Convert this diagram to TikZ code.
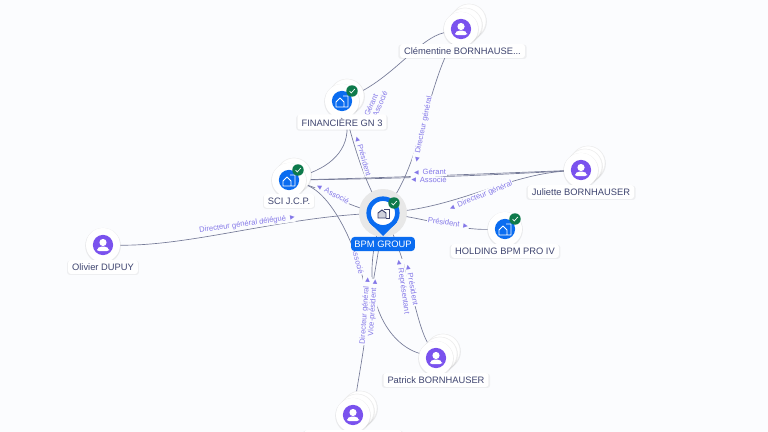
\documentclass[tikz,border=0pt]{standalone}
\usepackage{fontspec}
\setmainfont{Liberation Sans}
\newfontfamily\tipfont{DejaVu Sans}
\usetikzlibrary{backgrounds,shadows}
\definecolor{pagebg}{HTML}{FBFCFE}
\definecolor{edgegray}{HTML}{767B98}
\definecolor{labelviolet}{HTML}{8478E8}
\definecolor{nametext}{HTML}{3F4570}
\definecolor{personviolet}{HTML}{7A52EE}
\definecolor{companyblue}{HTML}{0A6CF0}
\definecolor{checkgreen}{HTML}{0E7A4B}
\newcommand{\tipl}{{\tipfont\fontsize{4.5}{5}\selectfont ◀}\hspace{3pt}}
\newcommand{\tipr}{\hspace{3pt}{\tipfont\fontsize{4.5}{5}\selectfont ▶}}
\tikzset{
  x=0.75pt,y=-0.75pt,
  disc/.style={circle,fill=white,inner sep=0pt,minimum size=25.5pt,drop shadow={opacity=.14,shadow xshift=0pt,shadow yshift=-.5pt,shadow scale=1.05}},
  backdisc/.style={disc,draw=black!7,line width=.3pt},
  namebox/.style={rectangle,fill=white,rounded corners=2pt,text=nametext,font=\fontsize{7}{8}\selectfont,inner xsep=3pt,inner ysep=2.6pt,drop shadow={opacity=.1,shadow xshift=0pt,shadow yshift=-.6pt,shadow scale=1.03}},
  edge/.style={draw=edgegray,line width=.5pt},
  edgelabel/.style={fill=pagebg,text=labelviolet,font=\fontsize{5.7}{6}\selectfont,inner sep=.6pt},
}
% person with two discs behind
\newcommand{\personmark}[2]{
  \fill[personviolet] (#1,#2) circle (7.6pt);
  \fill[white] (#1,#2-2.5) circle (3.6);
  \fill[white,rounded corners=1.5pt] (#1-6,#2+6) -- (#1-6,#2+3.5) -- (#1-3,#2+1.5) -- (#1+3,#2+1.5) -- (#1+6,#2+3.5) -- (#1+6,#2+6) -- cycle;
}
\newcommand{\companymark}[2]{
  \fill[companyblue] (#1,#2) circle (7.6pt);
  \draw[white,line width=.6pt,line join=round] (#1-6,#2+6) -- (#1-6,#2+1) -- (#1-2,#2-3) -- (#1+2,#2+1) -- (#1+2,#2+6) -- cycle (#1+1,#2-5) -- (#1+6,#2-5) -- (#1+6,#2+6) -- (#1+2,#2+6);
}
\newcommand{\okmark}[2]{
  \fill[checkgreen] (#1,#2) circle (4.3pt);
  \draw[white,line width=.5pt] (#1-2.5,#2) -- (#1-.7,#2+2) -- (#1+2.8,#2-2);
}
\begin{document}
\begin{tikzpicture}
	\clip (0,0) rectangle (768,432);
	% back discs
	\node[backdisc] (clemb) at (469,21) {};
	\node[backdisc] (clema) at (465,25) {};
	\node[backdisc] (finb) at (347,96) {};
	\node[backdisc] (scib) at (294,175) {};
	\node[backdisc] (julib) at (588,163) {};
	\node[backdisc] (julia) at (585,166) {};
	\node[backdisc] (patb) at (443,351) {};
	\node[backdisc] (pata) at (440,354) {};
	\node[backdisc] (botb) at (360,408) {};
	\node[backdisc] (bota) at (357,411) {};
	
	% main discs
	\node[disc] (clem) at (461,29) {};
	\node[disc] (fin) at (342,101) {};
	\node[disc] (sci) at (289,180) {};
	\node[disc] (juli) at (581,170) {};
	\node[disc] (holding) at (505,229) {};
	\node[disc] (olivier) at (103,245) {};
	\node[disc] (patrick) at (436,358) {};
	\node[disc] (bottom) at (353,415) {};
	
	\personmark{461}{29}
	\personmark{581}{170}
	\personmark{103}{245}
	\personmark{436}{358}
	\personmark{353}{415}
	\companymark{342}{101}
	\companymark{289}{180}
	\companymark{505}{229}
	\okmark{352}{91}
	\okmark{298}{170}
	\okmark{515}{219}
	
	% names
	\node[namebox] (tclem) at (462.5,51) {Clémentine BORNHAUSE...};
	\node[namebox] (tfin) at (342,122) {FINANCIÈRE GN 3};
	\node[namebox] (tsci) at (289,201) {SCI J.C.P.};
	\node[namebox] (tjuli) at (581,192) {Juliette BORNHAUSER};
	\node[namebox] (tholding) at (505,251) {HOLDING BPM PRO IV};
	\node[namebox] (tolivier) at (103,267) {Olivier DUPUY};
	\node[namebox] (tpatrick) at (436,380) {Patrick BORNHAUSER};
	\node[namebox,minimum width=73pt,minimum height=12pt] (tbottom) at (353,438) {};
	
	% central pin
	\begin{scope}[on background layer]
		\fill[pagebg] (0,0) rectangle (768,432);
	\end{scope}
	\node[circle,fill=black!9,inner sep=0pt,minimum size=36pt] (halo) at (383,213) {};
	\fill[companyblue] (369,222) -- (383,236) -- (397,222) -- cycle;
	\node[circle,fill=white,draw=companyblue,line width=3.4pt,inner sep=0pt,minimum size=21.5pt] (bpm) at (383,213) {};
	\draw[nametext,line width=.7pt,fill=nametext!25] (378,218) -- (378,213) -- (382,210) -- (386,213) -- (386,218) -- cycle;
	\draw[nametext,line width=.7pt] (384,209) -- (389,209) -- (389,218) -- (386,218);
	\okmark{394}{203}
	\node[rectangle,fill=companyblue,rounded corners=2.5pt,text=white,font=\fontsize{7}{8}\selectfont,inner xsep=2.5pt,inner ysep=2.8pt] (tbpm) at (383,244) {BPM GROUP};
	
	% connectors and their labels
	\coordinate (mergedir) at (366.5,325);
	\begin{scope}[on background layer]
		\path[edge] (clem) .. controls (420,38) and (395,75) .. (fin);
		\path[edge] (clem) .. controls (430,80) and (420,160) .. (bpm);
		\path[edge] (fin) .. controls (350,130) and (360,170) .. (bpm);
		\path[edge] (fin) .. controls (352,145) and (335,165) .. (sci);
		\path[edge] (sci) .. controls (380,179) and (480,176) .. (juli);
		\path[edge] (sci) .. controls (380,178) and (480,174) .. (juli);
		\path[edge] (juli) .. controls (510,175) and (460,205) .. (bpm);
		\path[edge] (sci) .. controls (325,190) and (345,205) .. (bpm);
		\path[edge] (sci) .. controls (340,195) and (375,290) .. (mergedir);
		\path[edge] (olivier) .. controls (190,246) and (280,218) .. (bpm);
		\path[edge] (bpm) .. controls (430,220) and (460,230) .. (holding);
		\path[edge] (bottom) .. controls (359,375) and (364,350) .. (mergedir) .. controls (369,300) and (378,260) .. (bpm);
		\path[edge] (patrick) .. controls (390,345) and (358,300) .. (bpm);
		\path[edge] (patrick) .. controls (415,320) and (410,270) .. (bpm);
		
		\node[edgelabel,rotate=66] (lgerantclem) at (371,105) {Gérant};
		\node[edgelabel,rotate=66] (lassocclem) at (380,104) {Associé};
		\node[edgelabel,rotate=78] (ldirclem) at (423,129) {\tipl Directeur général};
		\node[edgelabel,rotate=-74] (lpresfin) at (363,156) {\tipl Président};
		\node[edgelabel] (lgerantjuli) at (430,172) {\tipl Gérant};
		\node[edgelabel,rotate=-2] (lassocjuli) at (429,180) {\tipl Associé};
		\node[edgelabel,rotate=22] (ldirjuli) at (481,196) {\tipl Directeur général};
		\node[edgelabel,rotate=-28] (lassocsci) at (333,194) {\tipl Associé};
		\node[edgelabel,rotate=8] (lolivier) at (247,224) {Directeur général délégué\tipr};
		\node[edgelabel,rotate=-9] (lpresholding) at (448,223) {Président\tipr};
		\node[edgelabel,rotate=-75] (lassocbot) at (358,261) {Associé};
		\node[edgelabel,rotate=86] (ldirbot) at (365,311) {Directeur général\tipr};
		\node[edgelabel,rotate=86] (lvicepat) at (373,308) {Vice-président\tipr};
		\node[edgelabel,rotate=-80] (lprespat) at (412,285) {\tipl Président};
		\node[edgelabel,rotate=-82] (lreppat) at (403,287) {\tipl Représentant};
	\end{scope}
\end{tikzpicture}
\end{document}
